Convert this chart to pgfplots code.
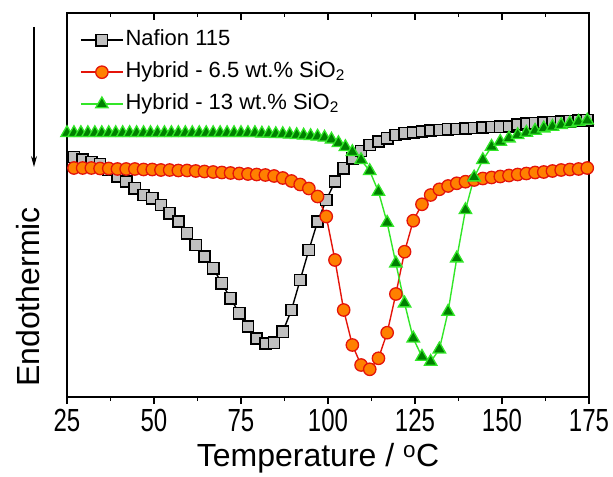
\documentclass[border=0pt]{standalone}
\usepackage{pgfplots}
\pgfplotsset{compat=1.18}
\usepackage{pgfplotstable}
\usepackage{fontspec}
\setmainfont{Liberation Sans}
\newfontfamily\tickfont{Liberation Sans}[FakeStretch=0.75]
\usetikzlibrary{arrows.meta}

\definecolor{sqfill}{RGB}{192,192,192}
\definecolor{orfill}{RGB}{255,128,0}
\definecolor{oredge}{RGB}{228,20,10}
\definecolor{grfill}{RGB}{0,128,0}
\definecolor{gredge}{RGB}{50,230,40}

% signal read as pixel rows of the reference, plotted as -py
\pgfplotstableread{
T py
24.5 153
27 157
29.5 159.5
32 162
34.5 164
37 170
39.5 176.7
42 181.7
44.5 188.3
47 195
49.5 198.3
52 205
54.5 213.3
57 221.7
59.5 233.3
62 245
64.5 256.7
67 268.3
69.5 283.3
72 298.3
74.5 313.3
77 326.7
79.5 338.3
82 343.3
84.5 342.7
87 331.7
89.5 310
92 280
94.5 250
97 221.7
99.5 200
102 181.7
104.5 168.3
107 158.3
109.5 151
112 145
114.5 141.7
117 138.3
119.5 135
122 133.3
124.5 132.7
127 131.7
129.5 130.7
132 130
134.5 129.3
137 129
139.5 128.5
142 128
144.5 127.5
147 127
149.5 126.8
152 126.5
154.5 124.5
157 123.5
159.5 123
162 122.5
164.5 122
167 121.8
169.5 121.3
172 120.8
174.5 120.3
}\nafion

\pgfplotstableread{
T py
24.5 168
27 168
29.5 168
32 168
34.5 168.5
37 168.5
39.5 169
42 169
44.5 169
47 169.5
49.5 169.5
52 170
54.5 170
57 170.5
59.5 170.5
62 171
64.5 171.5
67 172
69.5 172.5
72 173
74.5 173.5
77 174
79.5 174.5
82 175
84.5 176
87 178
89.5 181
92 184.5
94.5 188.5
97 196.5
99.5 216.5
102 260
104.5 310
107 345
109.5 365
112 369.3
114.5 358.3
117 332.7
119.5 294
122 251.7
124.5 220.7
127 204.3
129.5 195
132 189.3
134.5 186
137 183.3
139.5 181.7
142 180
144.5 178.5
147 177.5
149.5 176.5
152 175.5
154.5 174.5
157 173.5
159.5 172.5
162 172
164.5 171
167 170
169.5 169.5
172 169
174.5 168
}\hybA

\pgfplotstableread{
T py
25 133
27 133
29 133
31 133
33 133
35 133
37 133
39 133
41 133
43 133
45 133
47 133
49 133
51 133
53 133
55 133
57 133
59 133
61 133
63 133
65 133
67 133
69 133
71 133
73 133
75 133
77 133
79 133
81 133.5
83 133.5
85 134
87 134
89 134.5
91 135
93 135.5
95 136
97 136.5
99 137.5
101 139.5
103 143
105 147
107 152
109.5 160
112 171
114.5 191.7
117 222.7
119.5 263.3
122 303.3
124.5 338.3
127 356.7
129.5 361.7
132 349.3
134.5 311.7
137 258.3
139.5 210
142 177.3
144.5 160
147 146.7
149.5 141.7
152 138.3
154.5 135
157 132.7
159.5 130.7
162 128.3
164.5 126.7
167 125
169.5 123.3
172 121.7
174.5 120.5
}\hybB

\begin{document}
\begin{tikzpicture}
\begin{axis}[
  scale only axis,
  width=522bp, height=384bp,
  xmin=25, xmax=175, ymin=-397, ymax=-13,
  xtick={25,50,...,175},
  minor x tick num=1,
  ytick=\empty,
  xtick pos=lower,
  tick align=outside,
  major tick length=7bp,
  minor tick length=4bp,
  tick style={black, line width=1.5bp},
  axis line style={line width=1.8bp},
  /pgf/number format/assume math mode=true,
  xticklabel style={font=\tickfont\fontsize{32bp}{36bp}\selectfont, yshift=-2bp},
  legend cell align=left,
  legend style={draw=none, fill=none, at={(axis description cs:0,1)}, anchor=north west,
    xshift=13bp, yshift=-14bp, inner sep=0pt, row sep=6bp,
    font=\fontsize{22bp}{26bp}\selectfont,
    nodes={inner sep=2bp, text height=16bp, text depth=6bp}},
  legend image code/.code={\draw[mark repeat=2,mark phase=2] plot coordinates {(0bp,0bp) (21bp,0bp) (42bp,0bp)};},
]
\addplot[black, line width=1.4bp, mark=square*, mark size=5.6bp,
  mark options={fill=sqfill, draw=black, line width=1.6bp}]
  table[x=T, y expr=-\thisrow{py}] {\nafion};
\addlegendentry{Nafion 115}
\addplot[oredge, line width=1.4bp, mark=*, mark size=6.2bp,
  mark options={fill=orfill, draw=oredge, line width=1.3bp}]
  table[x=T, y expr=-\thisrow{py}] {\hybA};
\addlegendentry{Hybrid - 6.5 wt.\% SiO\textsubscript{2}}
\addplot[gredge, line width=1.4bp, mark=triangle*, mark size=7.2bp,
  mark options={fill=grfill, draw=gredge, line width=1.3bp}]
  table[x=T, y expr=-\thisrow{py}] {\hybB};
\addlegendentry{Hybrid - 13 wt.\% SiO\textsubscript{2}}
\coordinate (sw) at (rel axis cs:0,0);
\coordinate (nw) at (rel axis cs:0,1);
\coordinate (ne) at (rel axis cs:1,1);
\end{axis}
\begin{axis}[
  scale only axis,
  width=522bp, height=384bp,
  xmin=25, xmax=175, ymin=0, ymax=1,
  xtick={25,50,...,175},
  minor x tick num=1,
  ytick=\empty,
  xticklabels={},
  xtick pos=upper,
  tick align=inside,
  major tick length=7bp,
  minor tick length=4bp,
  tick style={black, line width=1.5bp},
  axis line style={draw=none},
]
\end{axis}
\draw[line width=1.2bp, -{Stealth[length=11bp, width=6bp]}]
  ([shift={(-33bp,-14bp)}]nw) -- ([shift={(-33bp,-154bp)}]nw);
\node[rotate=90, font=\fontsize{32bp}{36bp}\selectfont]
  at ([shift={(-39bp,100bp)}]sw) {Endothermic};
\node[font=\fontsize{32bp}{38bp}\selectfont]
  at ([shift={(251bp,-61bp)}]sw) {Temperature / \textsuperscript{o}C};
\pgfresetboundingbox
\path ([shift={(-67bp,-80bp)}]sw) rectangle ([shift={(24bp,13bp)}]ne);
\end{tikzpicture}
\end{document}
